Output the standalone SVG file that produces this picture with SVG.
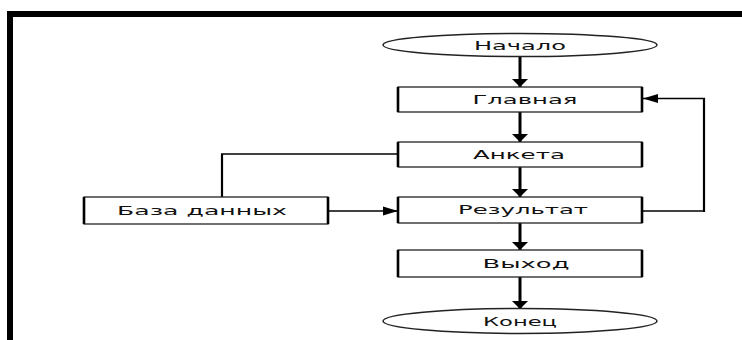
<svg xmlns="http://www.w3.org/2000/svg" width="742" height="340" viewBox="0 0 742 340">
<defs>
<style>
.frame{fill:none;stroke:#000;stroke-width:6}
.box{fill:#fff;stroke:#222;stroke-width:1.3}
.side{stroke:#000;stroke-width:2.6;fill:none}
.term{fill:#fff;stroke:#222;stroke-width:1.5}
.lbl{font-family:"DejaVu Sans","Liberation Sans",sans-serif;font-size:11.5px;fill:#111;text-anchor:middle}
.v{stroke:#000;stroke-width:3;fill:none}
.vt{stroke:#000;stroke-width:2.2;fill:none}
.h{stroke:#000;stroke-width:1.5;fill:none}
</style>
<marker id="ad" markerUnits="userSpaceOnUse" markerWidth="10" markerHeight="18" viewBox="0 -9 9 18" refX="8" refY="0" orient="auto">
<path d="M0,-8 L8,0 L0,8 z" fill="#000"/>
</marker>
<marker id="ah" markerUnits="userSpaceOnUse" markerWidth="16" markerHeight="10" viewBox="0 -5 15 10" refX="15" refY="0" orient="auto">
<path d="M0,-4.5 L15,0 L0,4.5 z" fill="#000"/>
</marker>
</defs>
<rect width="742" height="340" fill="#fff"/>
<path class="frame" d="M10,340 V14 H742"/>
<g id="connectors">
<path class="v" d="M520,56 V87" marker-end="url(#ad)"/>
<path class="v" d="M520,112 V142" marker-end="url(#ad)"/>
<path class="v" d="M520,167 V197" marker-end="url(#ad)"/>
<path class="v" d="M520,222 V250" marker-end="url(#ad)"/>
<path class="v" d="M520,277 V309" marker-end="url(#ad)"/>
<path class="vt" d="M222,197 V154"/>
<path class="h" d="M221,154 H398"/>
<path class="h" d="M328,211 H398" marker-end="url(#ah)"/>
<path class="h" d="M642,211 H705"/>
<path class="vt" d="M704,212 V98"/>
<path class="h" d="M705,98.5 H643" marker-end="url(#ah)"/>
</g>
<g id="start">
<ellipse class="term" cx="520" cy="45" rx="137" ry="11.5"/>
<text class="lbl" x="520" y="49.5" textLength="92" lengthAdjust="spacingAndGlyphs">Начало</text>
</g>
<g id="main">
<rect class="box" x="398" y="87" width="244" height="25"/>
<path class="side" d="M398,87 V112 M642,87 V112"/>
<text class="lbl" x="525" y="103.5" textLength="105" lengthAdjust="spacingAndGlyphs">Главная</text>
</g>
<g id="survey">
<rect class="box" x="398" y="142" width="244" height="25"/>
<path class="side" d="M398,142 V167 M642,142 V167"/>
<text class="lbl" x="519" y="158.5" textLength="92" lengthAdjust="spacingAndGlyphs">Анкета</text>
</g>
<g id="result">
<rect class="box" x="398" y="197" width="244" height="26"/>
<path class="side" d="M398,197 V223 M642,197 V223"/>
<text class="lbl" x="523" y="214" textLength="130" lengthAdjust="spacingAndGlyphs">Результат</text>
</g>
<g id="exit">
<rect class="box" x="398" y="250" width="244" height="27"/>
<path class="side" d="M398,250 V277 M642,250 V277"/>
<text class="lbl" x="526" y="268" textLength="87" lengthAdjust="spacingAndGlyphs">Выход</text>
</g>
<g id="end">
<ellipse class="term" cx="520" cy="321" rx="137" ry="12.5"/>
<text class="lbl" x="520" y="325.5" textLength="74" lengthAdjust="spacingAndGlyphs">Конец</text>
</g>
<g id="database">
<rect class="box" x="84" y="197" width="244" height="27"/>
<path class="side" d="M84,197 V224 M328,197 V224"/>
<text class="lbl" x="202" y="215" textLength="170" lengthAdjust="spacingAndGlyphs">База данных</text>
</g>
</svg>
